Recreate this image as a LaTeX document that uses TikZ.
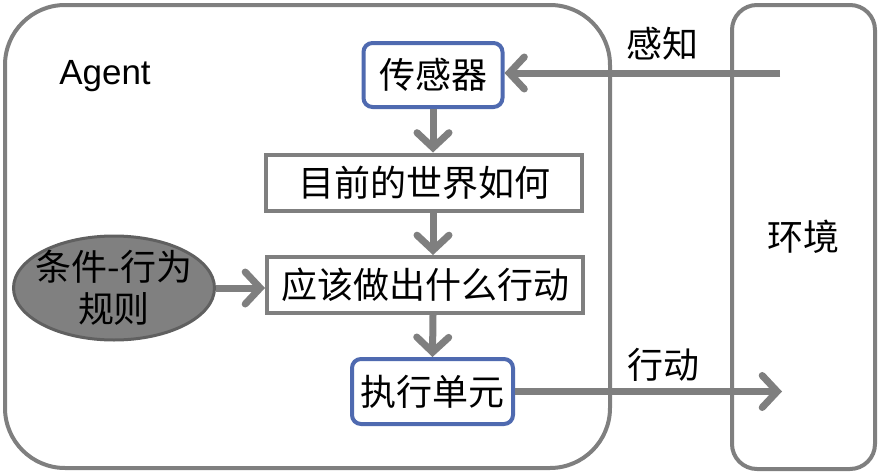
\documentclass[tikz,border=0pt]{standalone}
\usepackage{fontspec}
\newfontfamily\cjk{Noto Sans CJK SC}
\newfontfamily\arial{Liberation Sans}
\usetikzlibrary{arrows.meta,shapes.geometric,positioning}
\definecolor{linegray}{RGB}{127,127,127}
\definecolor{boxblue}{RGB}{79,106,176}
\definecolor{rulegray}{RGB}{128,128,128}
\definecolor{ruleedge}{RGB}{96,96,96}

\begin{document}
\begin{tikzpicture}[x=1pt,y=-1pt,line width=4pt,
    cjk text/.style={font=\cjk\fontsize{36}{42}\selectfont,inner sep=0pt},
    unit node/.style={cjk text,draw=boxblue,fill=white,rounded corners=9pt},
    state node/.style={cjk text,draw=linegray,fill=white,minimum width=316pt,minimum height=56pt},
    rule node/.style={ellipse,draw=ruleedge,line width=3pt,fill=rulegray,inner sep=0pt},
    flow/.style={draw=linegray,line width=7pt,-{Straight Barb[length=15pt,width=32pt,line cap=round]}}]

  \useasboundingbox (0,0) rectangle (879,474);

  % agent and environment
  \draw[linegray,rounded corners=60pt] (5,5) rectangle (610,468);
  \node[cjk text,draw=linegray,rounded corners=25pt,minimum width=143pt,minimum height=464pt] (env) at (803.5,237) {环境};
  \node[font=\arial\fontsize{35}{40}\selectfont,inner sep=0pt] (agent) at (105,76) {Agent};

  \node[unit node,minimum width=139pt,minimum height=64pt] (sensor) at (433,75) {传感器};
  \node[state node] (now) at (424,182.5) {目前的世界如何};
  \node[state node] (act) at (425,285) {应该做出什么行动};
  \node[unit node,minimum width=161pt,minimum height=65pt] (exec) at (432.5,391.5) {执行单元};
  \node[rule node,minimum width=201pt,minimum height=104pt] (rule) at (114,288) {};
  \node[cjk text,align=center] (ruletext) at (rule) {条件-行为\\规则};

  \coordinate (percept) at (780,73);
  \coordinate (actout) at (782,391.5);

  \draw[flow] (percept) -- (percept -| sensor.east);
  \draw[flow] (sensor.south) -- (sensor.south |- now.north);
  \draw[flow] (sensor.south |- now.south) -- (sensor.south |- act.north);
  \draw[flow] (sensor.south |- act.south) -- (exec.north);
  \draw[flow] (rule.east) -- (rule.east -| act.west);
  \draw[flow] (exec.east) -- (actout);

  \node[cjk text] (perlabel) at (662,44) {感知};
  \node[cjk text] (actlabel) at (663,365) {行动};
\end{tikzpicture}
\end{document}
